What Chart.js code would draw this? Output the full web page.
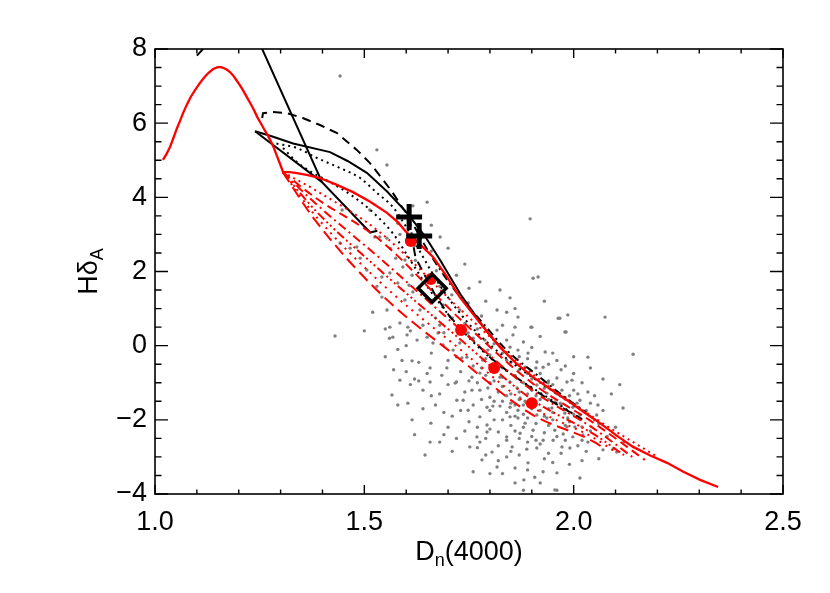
<!DOCTYPE html>
<html>
<head>
<meta charset="utf-8">
<script src="https://cdn.jsdelivr.net/npm/chart.js@4.4.0/dist/chart.umd.min.js"></script>
<style>
  body { margin: 0; background: #fff; }
  canvas { display: block; }
</style>
</head>
<body>
<canvas id="hdPlot" width="830" height="593"></canvas>
<script>
// tick labels
const xTicks = [1.0, 1.5, 2.0, 2.5];
const yTicks = [-4, -2, 0, 2, 4, 6, 8];

const galaxies = [
  [1.442,7.27],[1.530,5.28],[1.554,4.87],[1.616,3.77],[1.650,3.87],[1.681,2.93],[1.700,2.63],[1.513,3.66],[1.447,3.66],
  [1.442,2.77],[1.466,2.63],[1.482,2.66],[1.490,2.36],[1.506,2.04],[1.525,2.93],[1.537,2.93],[1.554,2.90],[1.562,2.62],
  [1.575,2.36],[1.597,2.31],[1.592,2.12],[1.614,1.90],[1.607,1.63],[1.640,1.70],[1.672,2.02],[1.622,2.30],[1.660,2.55],
  [1.896,3.42],[1.776,1.72],[1.903,1.82],[1.915,1.85],[1.824,1.50],[1.848,1.29],[1.817,0.96],[1.867,0.77],[1.967,0.74],
  [1.986,0.83],[1.979,0.37],[1.898,0.50],[2.075,0.77],[2.034,-0.31],[2.142,-0.23],[1.430,0.26],
  [1.542,1.85],[1.561,1.96],[1.580,1.69],[1.542,1.31],[1.597,1.23],[1.616,1.45],[1.664,1.23],[1.633,0.96],[1.554,0.96],
  [1.561,0.50],[1.585,0.61],[1.568,0.23],[1.604,0.50],[1.626,0.15],[1.640,0.55],[1.602,0.29],[1.650,0.23],[1.664,0.07],
  [1.676,0.34],[1.688,0.02],[1.688,1.10],[1.709,1.37],[1.728,0.96],[1.748,1.15],
  [1.712,-0.12],[1.728,0.07],[1.748,0.34],[1.788,0.15],[1.817,0.42],[1.855,0.29],[1.840,0.90],[1.900,0.50],[1.963,0.74],
  [1.982,0.37],[1.795,-0.12],[1.830,-0.20],[1.848,-0.04],[1.867,-0.12],[1.891,-0.20],[1.912,-0.44],[1.932,-0.17],
  [1.927,-0.58],[1.783,-0.39],[1.807,-0.58],[1.840,-0.39],[1.865,-0.50],[1.884,-0.58],[1.776,-0.74],[1.733,-0.33],
  [1.757,-0.85],[1.745,-0.31],[1.657,-0.60],[1.697,-0.60],[1.614,-0.41],[1.585,-0.93],[1.657,-0.98],[1.620,-0.90],
  [1.685,-0.80],[1.720,-0.98],[1.717,-1.01],[1.757,-1.20],[1.776,-1.20],[1.795,-1.14],[1.800,-1.39],[1.824,-0.85],
  [1.848,-0.98],[1.865,-1.14],[1.872,-1.41],[1.900,-1.20],[1.912,-1.06],[1.936,-1.28],[1.939,-1.01],[1.960,-0.87],
  [1.972,-1.20],[1.984,-0.98],[1.996,-0.93],[2.015,-1.47],[2.034,-1.25],[2.058,-1.60],[2.118,-1.68],[1.721,-1.47],
  [1.736,-1.47],[1.748,-1.74],[1.776,-1.92],[1.793,-2.14],[1.793,-1.66],[1.807,-1.63],[1.824,-1.63],[1.848,-1.66],
  [1.867,-1.74],[1.884,-1.50],[1.848,-1.92],[1.867,-1.95],[1.884,-2.09],[1.912,-1.87],[1.936,-1.95],[1.948,-1.68],
  [1.955,-1.52],[1.968,-1.55],[1.998,-1.66],[2.015,-1.87],[2.020,-2.19],[1.984,-2.19],[2.008,-1.55],[1.979,-1.82],
  [1.986,-1.95],[2.003,-2.19],[1.975,-2.38],[2.022,-2.41],[2.034,-2.60],[1.991,-2.76],[2.055,-1.87],[2.070,-2.81],
  [2.103,-2.87],[2.095,-2.78],[1.998,-2.46],[2.015,-3.57],[1.960,-3.43],[1.955,-3.89],[1.881,-3.62],[1.891,-3.16],
  [1.860,-3.30],[1.781,-3.08],[1.752,-2.73],[1.776,-2.60],[1.805,-2.87],[1.840,-2.46],[1.853,-2.73],[1.888,-2.79],
  [1.912,-2.76],[1.927,-2.55],[1.951,-2.55],[1.972,-2.73],[1.955,-2.28],[1.903,-2.28],[1.872,-2.36],[1.820,-2.33],
  [1.793,-2.33],[1.769,-2.46],[1.659,-2.09],[1.604,-1.55],[1.840,-3.00],[1.817,-3.27],[1.927,-3.40],[1.907,-3.55],
  [1.960,-3.90],[1.860,-3.70],[1.645,-2.95],[1.657,-2.60],[1.566,-1.33],[1.614,-2.00],[1.700,-2.20],[1.720,-2.50],
  [1.690,-1.80],[1.680,-1.30],[1.640,-1.20],
  [1.760,-0.55],[1.770,-1.00],[1.780,-1.45],[1.790,-0.80],[1.800,-1.75],[1.810,-0.95],[1.810,-2.00],[1.820,-1.25],
  [1.830,-1.50],[1.830,-0.60],[1.840,-1.80],[1.850,-1.30],[1.850,-2.15],[1.860,-0.80],[1.860,-1.60],[1.870,-2.50],
  [1.880,-1.00],[1.880,-1.85],[1.890,-1.30],[1.890,-2.60],[1.900,-0.90],[1.900,-1.70],[1.910,-2.10],[1.920,-1.45],
  [1.920,-0.75],[1.930,-2.35],[1.940,-1.70],[1.940,-0.50],[1.950,-2.00],[1.960,-1.30],[1.970,-2.90],[1.980,-1.40],
  [1.990,-2.05],[2.000,-1.20],[2.010,-2.70],[2.030,-1.75],[2.040,-2.30],[2.060,-2.10],[2.080,-2.45],[1.740,-1.25],
  [1.730,-0.70],[1.750,-2.05],[1.710,-1.90],[1.700,-0.40],[1.690,-2.40],[1.670,-1.60],[1.660,-0.20],[1.650,-0.75],
  [1.630,-0.45],[1.620,-2.40],[1.610,-1.05],[1.600,0.00],[1.590,-0.40],[1.580,-1.60],[1.570,-0.65],[1.560,0.20],
  [1.760,-3.40],[1.790,-2.95],[1.830,-3.45],[1.870,-2.95],[1.930,-3.05],[1.990,-3.20],[2.020,-3.10],[1.800,-0.25],
  [1.770,0.45],[1.740,0.60],[1.710,0.75],[1.680,0.55],[1.840,0.15],[1.880,0.10],[1.920,0.25],[1.950,-0.20],
  [1.980,-0.55],[2.000,-0.75],[2.020,-1.00],[2.050,-1.35],[2.070,-0.90],[2.100,-2.20],[2.120,-2.60],[1.530,1.60],
  [1.520,0.90],[1.550,-0.30],[1.500,0.40],[1.620,2.70],[1.585,3.00],[1.680,1.60],[1.720,1.90],[1.750,1.55],
  [1.790,1.20],[1.860,1.00],[1.930,1.20],[1.580,3.30],[1.660,3.25],[1.740,2.20],
  [1.760,-1.60],[1.770,-2.20],[1.780,-0.60],[1.790,-2.50],[1.800,-1.00],[1.810,-1.50],[1.820,-2.70],[1.830,-1.10],
  [1.830,-2.00],[1.840,-1.35],[1.850,-0.45],[1.850,-1.55],[1.860,-2.30],[1.870,-1.25],[1.870,-0.30],[1.880,-1.60],
  [1.880,-2.20],[1.890,-0.75],[1.890,-1.95],[1.900,-2.45],[1.910,-1.35],[1.910,-0.60],[1.920,-1.75],[1.920,-2.65],
  [1.930,-1.15],[1.930,-1.90],[1.940,-2.15],[1.950,-1.05],[1.950,-1.80],[1.960,-2.45],[1.970,-1.60],[1.970,-0.65],
  [1.980,-2.15],[1.990,-1.35],[2.000,-1.85],[2.010,-1.30],[2.020,-2.55],[2.040,-1.55],[2.050,-2.00],[2.070,-1.75],
  [1.790,-0.35],[1.810,0.05],[1.860,0.50],[1.890,-0.35],[1.940,-0.95],[1.730,-1.75],[1.740,-2.30],[1.750,-0.95],
  [1.720,-0.30],[1.760,0.20],[1.820,-3.10],[1.850,-2.85],[1.890,-3.35],[1.920,-3.70],[1.950,-3.15],[1.980,-2.55],
  [2.030,-2.85],[1.710,-2.85],[1.680,-2.60],[1.640,-1.70],[1.630,-0.95],[1.660,-1.35],[1.700,-1.05],[1.610,0.40],
  [1.670,0.75],[1.690,0.35],[1.780,0.80],[1.830,0.55],[1.870,-0.65],[1.900,-0.05],[1.960,-0.40],[2.000,-0.30],
  [2.040,-0.60],[2.090,-1.30],[2.110,-1.05],[1.580,-0.10],[1.550,0.45],[1.600,-0.70],[1.770,-2.75],[1.800,-3.45],
  [1.880,-3.90],[1.940,-2.90],[2.060,-3.05],[1.840,-2.55],[1.860,-1.90],[1.910,-2.55],[1.940,-1.45],[1.800,-2.25],
  [1.830,-0.85],[1.870,-1.45]
];

// red model track (solid)
const redSolid = [
  [1.019,5.01],[1.028,5.18],[1.036,5.36],[1.044,5.60],[1.052,5.85],[1.060,6.07],[1.067,6.27],[1.076,6.50],
  [1.085,6.70],[1.096,6.90],[1.107,7.08],[1.118,7.24],[1.128,7.36],[1.139,7.46],[1.150,7.51],[1.158,7.51],
  [1.165,7.48],[1.172,7.44],[1.179,7.38],[1.187,7.28],[1.195,7.15],[1.203,7.02],[1.210,6.89],[1.218,6.73],
  [1.227,6.55],[1.236,6.36],[1.244,6.17],[1.252,6.01],[1.260,5.85],[1.268,5.70],[1.275,5.55],[1.283,5.36],
  [1.290,5.15],[1.298,4.92],[1.306,4.68],[1.322,4.68],[1.339,4.65],[1.365,4.60],[1.394,4.52],[1.432,4.35],
  [1.473,4.14],[1.514,3.88],[1.554,3.58],[1.580,3.33],[1.602,3.04],[1.633,2.73],[1.664,2.39],[1.696,1.88],
  [1.728,1.31],[1.776,0.62],[1.824,-0.04],[1.862,-0.47],[1.903,-0.85],[1.944,-1.17],[1.984,-1.47],[2.024,-1.79],
  [2.063,-2.09],[2.102,-2.42],[2.142,-2.73],[2.183,-2.96],[2.223,-3.16],[2.262,-3.40],[2.302,-3.62],[2.345,-3.81]
];

// red model tracks (broken lines)
const redTrackA = [[1.305,4.68],[1.382,4.20],[1.537,3.06],[1.731,0.96],[1.90,-0.75],[2.05,-1.95],[2.20,-3.00]];
const redTrackB = [[1.305,4.68],[1.382,4.00],[1.537,2.85],[1.731,0.69],[1.90,-1.00],[2.05,-2.10],[2.17,-3.08]];
const redTrackC = [[1.305,4.68],[1.382,3.85],[1.537,2.36],[1.731,0.42],[1.90,-1.20],[2.05,-2.25],[2.14,-3.00]];
const redTrackD = [[1.305,4.68],[1.382,3.66],[1.537,2.04],[1.731,0.15],[1.90,-1.45],[2.05,-2.40],[2.12,-2.95]];
const redTrackE = [[1.305,4.68],[1.382,3.52],[1.537,1.72],[1.731,-0.12],[1.90,-1.65],[2.05,-2.50],[2.10,-2.87]];
const redTrackF = [[1.305,4.68],[1.382,3.39],[1.537,1.42],[1.731,-0.39],[1.90,-1.85],[2.05,-2.60],[2.07,-2.75]];

// red symbols
const redDots = [[1.611,2.82],[1.659,1.80],[1.731,0.42],[1.810,-0.60],[1.900,-1.55]];

// black model tracks
const blackSteep = [[1.250,8.15],[1.399,4.41],[1.514,3.05],[1.531,3.10]];
const blackEdge = [[1.239,5.78],[1.399,4.41]];
const blackUpper = [
  [1.239,5.78],[1.275,5.66],[1.330,5.45],[1.418,5.22],[1.460,4.98],[1.506,4.66],[1.555,4.15],[1.602,3.58],
  [1.645,2.95],[1.681,2.31],[1.705,1.85],[1.730,1.38],[1.755,0.98],[1.776,0.64],[1.800,0.28],[1.830,-0.10]
];
const blackDashTop = [[1.100,7.82],[1.140,8.30]];
const blackDashed = [
  [1.256,6.14],[1.258,6.27],[1.282,6.30],[1.315,6.27],[1.353,6.14],[1.394,5.95],[1.435,5.73],[1.482,5.28],
  [1.513,4.93],[1.545,4.47],[1.568,4.12],[1.590,3.74],[1.609,3.44],[1.614,2.90],[1.622,2.39],[1.640,1.99],
  [1.670,1.35],[1.705,0.77],[1.759,0.15],[1.800,-0.31],[1.848,-0.74],[1.896,-1.12],[1.950,-1.52],[2.020,-1.98]
];
const blackDotA = [
  [1.290,5.45],[1.339,5.33],[1.387,5.06],[1.442,4.79],[1.490,4.52],[1.530,4.12],[1.568,3.74],[1.600,3.20],
  [1.630,2.60],[1.660,2.00],[1.700,1.30],[1.745,0.65],[1.783,0.20],[1.840,-0.35],[1.920,-1.00],[2.000,-1.60],[2.040,-1.90]
];
const blackDotB = [
  [1.306,5.33],[1.339,4.95],[1.377,4.66],[1.418,4.41],[1.470,4.05],[1.520,3.60],[1.570,3.00],[1.610,2.30],
  [1.650,1.60],[1.700,0.85],[1.760,0.10],[1.830,-0.60],[1.910,-1.20],[1.980,-1.70],[2.020,-2.00]
];
const blackDashDot = [
  [1.620,3.20],[1.650,2.60],[1.690,1.90],[1.730,1.30],[1.783,0.61],[1.840,-0.12],[1.919,-0.85],[1.980,-1.40],[2.030,-1.80]
];

// black symbols
const crosses = [[1.607,3.47],[1.631,2.96]];
const diamond = [[1.662,1.55]];

const toXY = arr => arr.map(p => ({ x: p[0], y: p[1] }));

function track(data, color, width, dash, smooth) {
  return {
    data: toXY(data), showLine: true, borderColor: color, borderWidth: width,
    borderDash: dash, pointRadius: 0, clip: 0, order: 5,
    tension: smooth ? 0.4 : 0,
    cubicInterpolationMode: smooth ? 'monotone' : 'default'
  };
}

const FONT = '"Liberation Sans", Arial, Helvetica, sans-serif';

// frame with inward ticks on four sides, plus axis titles
const framePlugin = {
  id: 'frame',
  afterDraw(chart) {
    const { ctx, chartArea: a, scales: { x, y } } = chart;
    ctx.save();
    ctx.strokeStyle = '#000';
    ctx.lineWidth = 1.6;
    ctx.strokeRect(a.left, a.top, a.right - a.left, a.bottom - a.top);
    ctx.lineWidth = 1.4;
    ctx.beginPath();
    for (let i = 0; i <= 15; i++) {
      const px = x.getPixelForValue(1 + i * 0.1);
      const len = i % 5 === 0 ? 9 : 4.5;
      ctx.moveTo(px, a.bottom); ctx.lineTo(px, a.bottom - len);
      ctx.moveTo(px, a.top); ctx.lineTo(px, a.top + len);
    }
    for (let i = 0; i <= 24; i++) {
      const py = y.getPixelForValue(-4 + i * 0.5);
      const len = i % 4 === 0 ? 13 : 6.5;
      ctx.moveTo(a.left, py); ctx.lineTo(a.left + len, py);
      ctx.moveTo(a.right, py); ctx.lineTo(a.right - len, py);
    }
    ctx.stroke();

    ctx.fillStyle = '#000';
    ctx.textBaseline = 'alphabetic';
    ctx.textAlign = 'left';
    // x title: D_n(4000)
    const big = '27px ' + FONT, small = '18px ' + FONT;
    ctx.font = big; const wD = ctx.measureText('D').width; const wR = ctx.measureText('(4000)').width;
    ctx.font = small; const wn = ctx.measureText('n').width;
    const sx = (a.left + a.right) / 2 - (wD + wn + wR) / 2;
    const by = 560;
    ctx.font = big; ctx.fillText('D', sx, by);
    ctx.font = small; ctx.fillText('n', sx + wD, by + 6);
    ctx.font = big; ctx.fillText('(4000)', sx + wD + wn, by);

    // y title: Hδ_A
    ctx.translate(97, (a.top + a.bottom) / 2);
    ctx.rotate(-Math.PI / 2);
    ctx.font = big; const wH = ctx.measureText('Hδ').width;
    ctx.font = small; const wA = ctx.measureText('A').width;
    const tx = -(wH + wA) / 2;
    ctx.font = big; ctx.fillText('Hδ', tx, 0);
    ctx.font = small; ctx.fillText('A', tx + wH, 6);
    ctx.restore();
  }
};

new Chart(document.getElementById('hdPlot'), {
  type: 'scatter',
  data: {
    datasets: [
      { data: toXY(galaxies), pointRadius: 1.7, pointBackgroundColor: '#808080', pointBorderWidth: 0, order: 10 },
      track(redTrackA, '#ff0000', 2, [2, 4], true),
      track(redTrackB, '#ff0000', 2, [9, 5], true),
      track(redTrackC, '#ff0000', 2, [9, 4, 2, 4], true),
      track(redTrackD, '#ff0000', 2, [9, 3, 2, 3, 2, 3, 2, 3], true),
      track(redTrackE, '#ff0000', 2, [2, 5], true),
      track(redTrackF, '#ff0000', 2, [12, 6], true),
      track(blackDotA, '#000', 2, [2, 4], true),
      track(blackDotB, '#000', 2, [2, 4], true),
      track(blackDashDot, '#000', 2, [8, 4, 2, 4], true),
      track(blackDashed, '#000', 2, [9, 6], false),
      track(blackDashTop, '#000', 2, [9, 6], false),
      track(blackSteep, '#000', 2, [], false),
      track(blackEdge, '#000', 2, [], false),
      track(blackUpper, '#000', 2, [], false),
      Object.assign(track(redSolid, '#ff0000', 2.3, [], false), { order: 4 }),
      { data: toXY(redDots), pointRadius: 6, pointBackgroundColor: '#ff0000', pointBorderWidth: 0, order: 1 },
      { data: toXY(crosses), pointStyle: 'cross', pointRadius: 13, pointBorderColor: '#000', pointBorderWidth: 5, order: 0 },
      { data: toXY(diamond), pointStyle: 'rectRot', pointRadius: 14, pointBorderColor: '#000', pointBackgroundColor: 'rgba(0,0,0,0)', pointBorderWidth: 3.5, order: 0 }
    ]
  },
  options: {
    responsive: false,
    animation: false,
    devicePixelRatio: 1,
    layout: { padding: { top: 49, right: 47, left: 0, bottom: 0 } },
    plugins: { legend: { display: false }, tooltip: { enabled: false } },
    scales: {
      x: {
        type: 'linear', min: 1.0, max: 2.5,
        afterFit: s => { s.height = 99; },
        afterBuildTicks: s => { s.ticks = xTicks.map(v => ({ value: v })); },
        grid: { display: false, drawTicks: false },
        border: { display: false },
        ticks: { padding: 12, color: '#000', font: { size: 27, family: FONT }, callback: v => v.toFixed(1) }
      },
      y: {
        type: 'linear', min: -4, max: 8,
        afterFit: s => { s.width = 155; },
        afterBuildTicks: s => { s.ticks = yTicks.map(v => ({ value: v })); },
        grid: { display: false, drawTicks: false },
        border: { display: false },
        ticks: { padding: 8, color: '#000', font: { size: 27, family: FONT }, callback: v => v < 0 ? '\u2212' + Math.abs(v) : String(v) }
      }
    }
  },
  plugins: [framePlugin]
});
</script>
</body>
</html>
